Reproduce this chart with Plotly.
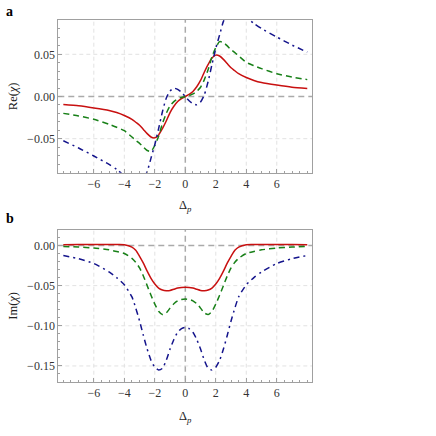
import plotly.graph_objects as go

# probe detuning (shared by all curves)
delta = [-8, -7, -6, -5, -4.5, -4, -3.5, -3.25, -3, -2.75, -2.5, -2.25, -2, -1.75, -1.5,
         -1.25, -1, -0.75, -0.5, -0.25, 0, 0.25, 0.5, 0.75, 1, 1.25, 1.5, 1.75, 2,
         2.25, 2.5, 2.75, 3, 3.25, 3.5, 4, 4.5, 5, 6, 7, 8]

# panel a: Re(chi)
re_red = [-0.0095, -0.011, -0.0135, -0.0165, -0.019, -0.0225, -0.027, -0.0305, -0.034, -0.039,
          -0.044, -0.048, -0.049, -0.0455, -0.038, -0.029, -0.019, -0.0115, -0.006, -0.0025, 0.0,
          0.0025, 0.006, 0.0115, 0.019, 0.029, 0.038, 0.0455, 0.049, 0.048, 0.044, 0.039,
          0.034, 0.0305, 0.027, 0.0225, 0.019, 0.0165, 0.0135, 0.011, 0.0095]
re_green = [-0.020, -0.023, -0.027, -0.033, -0.0365, -0.0405, -0.048, -0.052, -0.0555, -0.060,
            -0.064, -0.065, -0.058, -0.047, -0.032, -0.020, -0.011, -0.006, -0.003, -0.0012, 0.0,
            0.0012, 0.003, 0.006, 0.011, 0.020, 0.032, 0.047, 0.058, 0.065, 0.064, 0.060,
            0.0555, 0.052, 0.048, 0.0405, 0.0365, 0.033, 0.027, 0.023, 0.020]
re_blue = [-0.0525, -0.061, -0.0705, -0.0805, -0.0865, -0.094, -0.101, -0.103, -0.102, -0.098,
           -0.089, -0.073, -0.057, -0.038, -0.018, -0.002, 0.0065, 0.0098, 0.0085, 0.005, 0.0,
           -0.005, -0.0085, -0.0098, -0.0065, 0.002, 0.018, 0.038, 0.057, 0.073, 0.089, 0.098,
           0.102, 0.103, 0.101, 0.094, 0.0865, 0.0805, 0.0705, 0.061, 0.0525]

# panel b: Im(chi)
im_red = [0.0010, 0.0011, 0.0012, 0.0012, 0.0012, 0.0010, -0.002, -0.006, -0.0135, -0.022,
          -0.032, -0.041, -0.048, -0.053, -0.0555, -0.0563, -0.056, -0.0545, -0.053, -0.0522, -0.052,
          -0.0522, -0.053, -0.0545, -0.056, -0.0563, -0.0555, -0.053, -0.048, -0.041, -0.032, -0.022,
          -0.0135, -0.006, -0.002, 0.0010, 0.0012, 0.0012, 0.0012, 0.0011, 0.0010]
im_green = [-0.0012, -0.002, -0.0032, -0.0055, -0.0075, -0.010, -0.016, -0.021, -0.028, -0.038,
            -0.050, -0.062, -0.073, -0.082, -0.086, -0.084, -0.078, -0.0725, -0.069, -0.0672, -0.0668,
            -0.0672, -0.069, -0.0725, -0.078, -0.084, -0.086, -0.082, -0.073, -0.062, -0.050, -0.038,
            -0.028, -0.021, -0.016, -0.010, -0.0075, -0.0055, -0.0032, -0.002, -0.0012]
im_blue = [-0.0125, -0.0165, -0.0225, -0.033, -0.040, -0.049, -0.064, -0.078, -0.094, -0.112,
           -0.129, -0.143, -0.1515, -0.155, -0.153, -0.143, -0.129, -0.117, -0.108, -0.1035, -0.102,
           -0.1035, -0.108, -0.117, -0.129, -0.143, -0.153, -0.155, -0.1515, -0.143, -0.129, -0.112,
           -0.094, -0.078, -0.064, -0.049, -0.040, -0.033, -0.0225, -0.0165, -0.0125]

# tick values
x_ticks = [-6, -4, -2, 0, 2, 4, 6]
re_ticks = [-0.05, 0, 0.05]
im_ticks = [-0.15, -0.10, -0.05, 0]

red = "rgb(200,16,16)"
green = "rgb(24,128,24)"
blue = "rgb(20,20,140)"
serif = "Liberation Serif, Times New Roman, DejaVu Serif, serif"

fig = go.Figure()
for ys, col, dash in [(re_red, red, "solid"), (re_green, green, "6px,4px"),
                      (re_blue, blue, "6px,4px,2px,4px")]:
    fig.add_trace(go.Scatter(x=delta, y=ys, mode="lines", line=dict(color=col, width=1.5, dash=dash,
                                                                     shape="spline", smoothing=0.6),
                             xaxis="x", yaxis="y", showlegend=False, hoverinfo="skip"))
for ys, col, dash in [(im_red, red, "solid"), (im_green, green, "6px,4px"),
                      (im_blue, blue, "6px,4px,2px,4px")]:
    fig.add_trace(go.Scatter(x=delta, y=ys, mode="lines", line=dict(color=col, width=1.5, dash=dash,
                                                                     shape="spline", smoothing=0.6),
                             xaxis="x2", yaxis="y2", showlegend=False, hoverinfo="skip"))

xdom = [58.3 / 436, 312.3 / 436]
frame = "rgb(160,160,160)"
tickfont = dict(family=serif, size=12, color="#333")

def xax(anchor, dom):
    return dict(domain=dom, anchor=anchor, range=[-8.33, 8.33], tickvals=x_ticks,
                ticks="inside", ticklen=4, tickcolor=frame, showline=True, linecolor=frame,
                mirror=True, linewidth=1, showgrid=False, zeroline=False, tickfont=tickfont,
                automargin=False,
                minor=dict(tick0=0, dtick=0.5, ticks="inside", ticklen=2, tickcolor=frame,
                           showgrid=False))

def yax(anchor, dom, rng, vals):
    return dict(domain=dom, anchor=anchor, range=rng, tickvals=vals, tickformat=".2f",
                ticks="inside", ticklen=4, tickcolor=frame, showline=True, linecolor=frame,
                mirror=True, linewidth=1, showgrid=False, zeroline=False, tickfont=tickfont,
                automargin=False,
                minor=dict(tick0=0, dtick=0.01, ticks="inside", ticklen=2, tickcolor=frame,
                           showgrid=False))

top = [1 - 172.7 / 436, 1 - 19.7 / 436]
bot = [1 - 381.7 / 436, 1 - 229.7 / 436]

fig.update_layout(
    width=436, height=436, autosize=False,
    margin=dict(l=0, r=0, t=0, b=0, pad=0),
    paper_bgcolor="white", plot_bgcolor="white",
    xaxis=xax("y", xdom), yaxis=yax("x", top, [-0.0903, 0.091], re_ticks),
    xaxis2=xax("y2", xdom), yaxis2=yax("x2", bot, [-0.1696, 0.0196], im_ticks),
)

# light dashed grid at the non-zero ticks, darker dashed lines at zero
gl = dict(color="rgb(226,226,226)", width=1, dash="4px,3px")
zl = dict(color="rgb(170,170,170)", width=1.5, dash="6px,4px")
for xr, yr, yt in [("x", "y", re_ticks), ("x2", "y2", im_ticks)]:
    for v in x_ticks:
        fig.add_shape(type="line", xref=xr, yref=yr + " domain", x0=v, x1=v, y0=0, y1=1,
                      line=zl if v == 0 else gl, layer="below")
    for v in yt:
        fig.add_shape(type="line", xref=xr + " domain", yref=yr, x0=0, x1=1, y0=v, y1=v,
                      line=zl if v == 0 else gl, layer="below")

labfont = dict(family=serif, size=12.5, color="#222")
ann = [
    dict(text="Re(<i>χ</i>)", x=13 / 436, y=1 - 96.2 / 436, textangle=-90),
    dict(text="Im(<i>χ</i>)", x=13 / 436, y=1 - 305.7 / 436, textangle=-90),
    dict(text="Δ<sub><i>p</i></sub>", x=185.7 / 436, y=1 - 206 / 436),
    dict(text="Δ<sub><i>p</i></sub>", x=185.7 / 436, y=1 - 417 / 436),
]
for a in ann:
    fig.add_annotation(xref="paper", yref="paper", showarrow=False, font=labfont,
                       xanchor="center", yanchor="middle", **a)
for t, yy in [("a", 11), ("b", 218)]:
    fig.add_annotation(text="<b>" + t + "</b>", xref="paper", yref="paper", x=4 / 436, y=1 - yy / 436,
                       xanchor="left", yanchor="middle", showarrow=False,
                       font=dict(family=serif, size=14, color="black"))

# page body has a default 8px margin; drop it so the figure sits at the window corner
fig.write_html("out.html", config={"displayModeBar": False},
               post_script="document.body.style.margin='0px';")
